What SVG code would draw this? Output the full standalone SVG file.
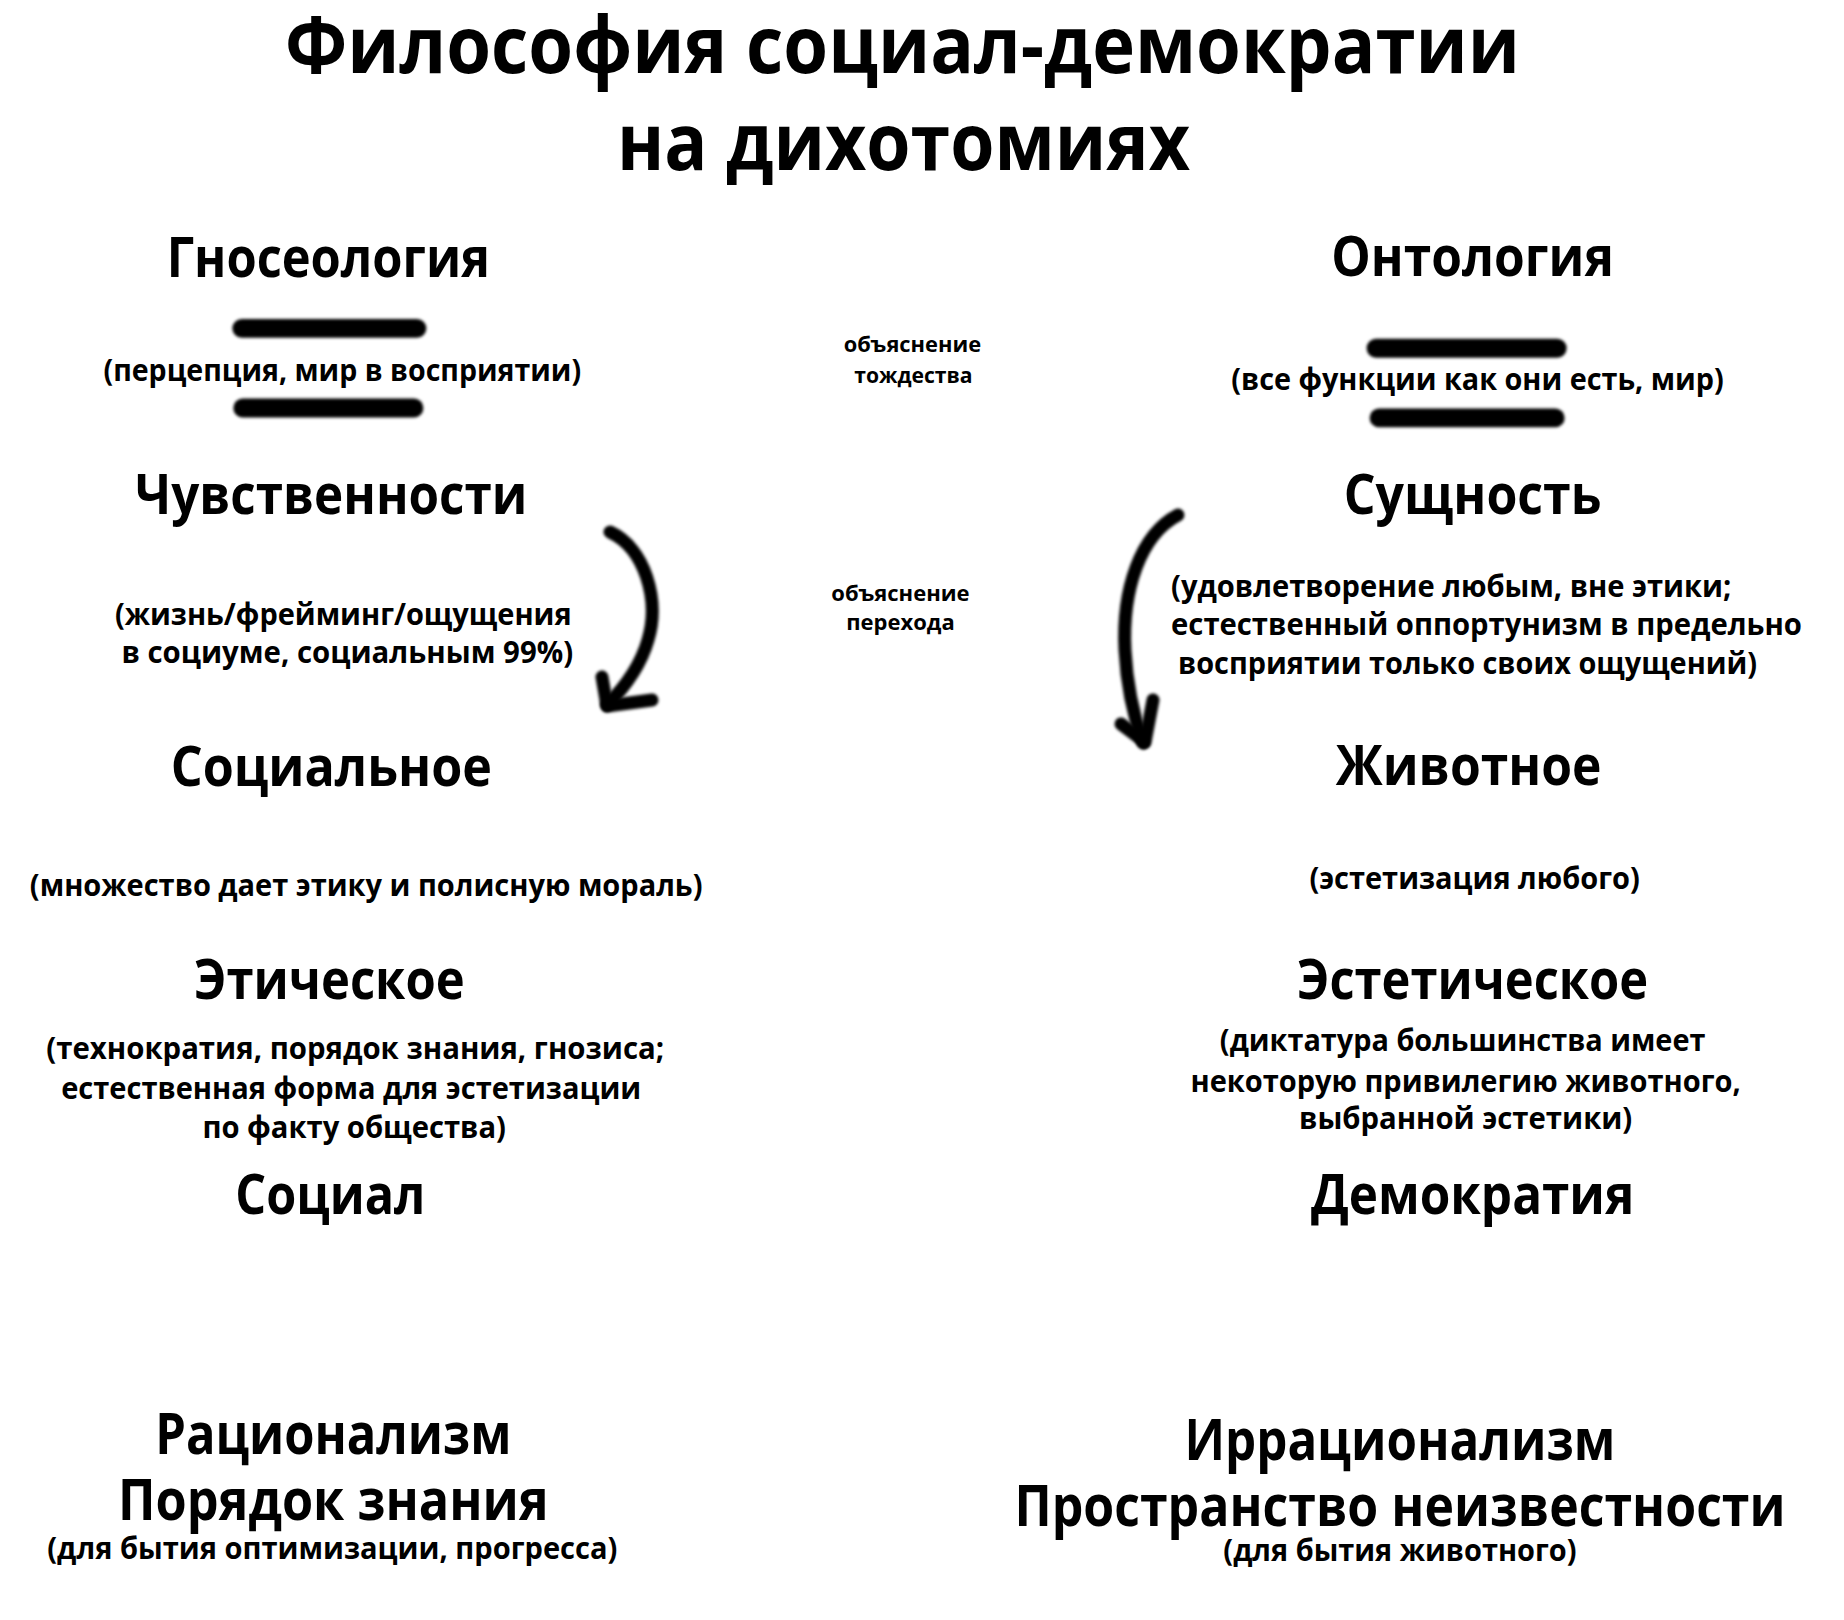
<svg xmlns="http://www.w3.org/2000/svg" width="1844" height="1620" viewBox="0 0 1844 1620">
<style>
text{font-family:"Open Sans","Noto Sans","DejaVu Sans",sans-serif;font-weight:700;fill:#000;text-anchor:middle}
.t{font-size:80px}
.h{font-size:56px}
.hb{font-size:58px}
.p{font-size:31px}
.s{font-size:22px}
.l{text-anchor:start}
.bar{stroke:#000;stroke-width:19;stroke-linecap:round;fill:none;filter:url(#soft)}
.arr{stroke:#000;stroke-width:13;stroke-linecap:round;stroke-linejoin:round;fill:none;filter:url(#soft)}
</style>
<defs>
<filter id="soft" filterUnits="userSpaceOnUse" x="0" y="0" width="1844" height="1620"><feGaussianBlur stdDeviation="1.5"/></filter>
</defs>
<rect width="1844" height="1620" fill="#fff"/>
<g transform="scale(0.995)">
<g id="title">
<text class="t" x="907" y="73" textLength="1241" lengthAdjust="spacingAndGlyphs">Философия социал-демократии</text>
<text class="t" x="908" y="171" textLength="576" lengthAdjust="spacingAndGlyphs">на дихотомиях</text>
</g>
<g id="gnoseology">
<text class="h" x="330" y="278" textLength="325" lengthAdjust="spacingAndGlyphs">Гносеология</text>
<line class="bar" x1="243" y1="330" x2="419" y2="330"/>
<text class="p" x="344" y="383" textLength="480" lengthAdjust="spacingAndGlyphs">(перцепция, мир в восприятии)</text>
<line class="bar" x1="244" y1="410" x2="416" y2="410"/>
</g>
<g id="ontology">
<text class="h" x="1480" y="277" textLength="284" lengthAdjust="spacingAndGlyphs">Онтология</text>
<line class="bar" x1="1383" y1="350" x2="1565" y2="350"/>
<text class="p" x="1485" y="392" textLength="495" lengthAdjust="spacingAndGlyphs">(все функции как они есть, мир)</text>
<line class="bar" x1="1386" y1="420" x2="1563" y2="420"/>
</g>
<g id="identity-label">
<text class="s" x="917" y="354" textLength="138" lengthAdjust="spacingAndGlyphs">объяснение</text>
<text class="s" x="918" y="385" textLength="119" lengthAdjust="spacingAndGlyphs">тождества</text>
</g>
<g id="sensuality">
<text class="h" x="333" y="517" textLength="394" lengthAdjust="spacingAndGlyphs">Чувственности</text>
<text class="p" x="345" y="628" textLength="459" lengthAdjust="spacingAndGlyphs">(жизнь/фрейминг/ощущения</text>
<text class="p" x="349" y="666" textLength="454" lengthAdjust="spacingAndGlyphs">в социуме, социальным 99%)</text>
</g>
<g id="essence">
<text class="h" x="1480" y="517" textLength="259" lengthAdjust="spacingAndGlyphs">Сущность</text>
<text class="p l" x="1177" y="600" textLength="563" lengthAdjust="spacingAndGlyphs">(удовлетворение любым, вне этики;</text>
<text class="p l" x="1177" y="638" textLength="634" lengthAdjust="spacingAndGlyphs">естественный оппортунизм в предельно</text>
<text class="p l" x="1184" y="677" textLength="582" lengthAdjust="spacingAndGlyphs">восприятии только своих ощущений)</text>
</g>
<g id="transition-label">
<text class="s" x="905" y="604" textLength="139" lengthAdjust="spacingAndGlyphs">объяснение</text>
<text class="s" x="905" y="633" textLength="109" lengthAdjust="spacingAndGlyphs">перехода</text>
</g>
<g id="social">
<text class="h" x="333" y="790" textLength="323" lengthAdjust="spacingAndGlyphs">Социальное</text>
<text class="p" x="368" y="900" textLength="676" lengthAdjust="spacingAndGlyphs">(множество дает этику и полисную мораль)</text>
</g>
<g id="animal">
<text class="h" x="1476" y="789" textLength="267" lengthAdjust="spacingAndGlyphs">Животное</text>
<text class="p" x="1482" y="893" textLength="332" lengthAdjust="spacingAndGlyphs">(эстетизация любого)</text>
</g>
<g id="ethical">
<text class="h" x="331" y="1004" textLength="272" lengthAdjust="spacingAndGlyphs">Этическое</text>
<text class="p" x="357" y="1064" textLength="621" lengthAdjust="spacingAndGlyphs">(технократия, порядок знания, гнозиса;</text>
<text class="p" x="353" y="1105" textLength="583" lengthAdjust="spacingAndGlyphs">естественная форма для эстетизации</text>
<text class="p" x="356" y="1144" textLength="305" lengthAdjust="spacingAndGlyphs">по факту общества)</text>
</g>
<g id="aesthetic">
<text class="h" x="1480" y="1004" textLength="353" lengthAdjust="spacingAndGlyphs">Эстетическое</text>
<text class="p" x="1470" y="1056" textLength="488" lengthAdjust="spacingAndGlyphs">(диктатура большинства имеет</text>
<text class="p" x="1473" y="1097" textLength="553" lengthAdjust="spacingAndGlyphs">некоторую привилегию животного,</text>
<text class="p" x="1473" y="1135" textLength="335" lengthAdjust="spacingAndGlyphs">выбранной эстетики)</text>
</g>
<g id="social-short">
<text class="h" x="332" y="1220" textLength="191" lengthAdjust="spacingAndGlyphs">Социал</text>
</g>
<g id="democracy">
<text class="h" x="1480" y="1220" textLength="325" lengthAdjust="spacingAndGlyphs">Демократия</text>
</g>
<g id="rationalism">
<text class="hb" x="335" y="1461" textLength="358" lengthAdjust="spacingAndGlyphs">Рационализм</text>
<text class="hb" x="335" y="1528" textLength="433" lengthAdjust="spacingAndGlyphs">Порядок знания</text>
<text class="p" x="334" y="1567" textLength="573" lengthAdjust="spacingAndGlyphs">(для бытия оптимизации, прогресса)</text>
</g>
<g id="irrationalism">
<text class="hb" x="1407" y="1467" textLength="433" lengthAdjust="spacingAndGlyphs">Иррационализм</text>
<text class="hb" x="1407" y="1534" textLength="775" lengthAdjust="spacingAndGlyphs">Пространство неизвестности</text>
<text class="p" x="1407" y="1569" textLength="355" lengthAdjust="spacingAndGlyphs">(для бытия животного)</text>
</g>
</g>
<g id="connectors">
<path class="arr" d="M610 532 C645 548 660 600 648 640 C640 668 622 690 607 705"/>
<path class="arr" d="M602 677 L607 706 L652 700"/>
<path class="arr" d="M1178 515 C1140 535 1122 590 1125 650 C1127 690 1135 720 1143 743"/>
<path class="arr" d="M1153 700 L1145 742 L1121 724"/>
</g>
</svg>
